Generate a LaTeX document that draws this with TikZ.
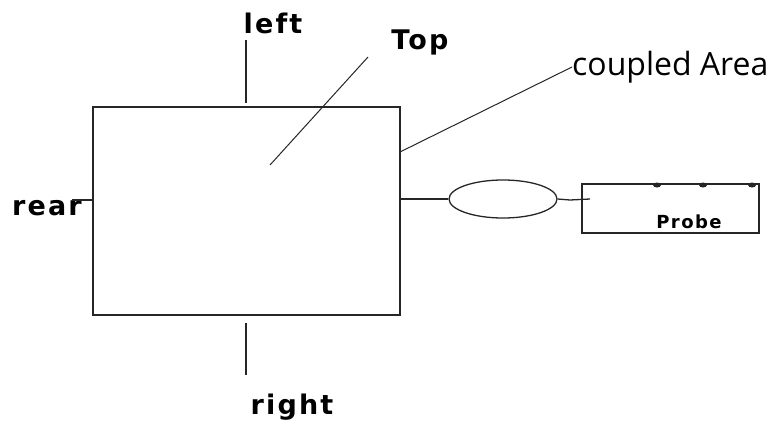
\documentclass[tikz,border=0pt]{standalone}
\usepackage{fontspec}
\usetikzlibrary{shapes.geometric}
\setmainfont{DejaVu Sans}
\newfontfamily\labfont[LetterSpace=8]{DejaVu Sans Bold}
\newfontfamily\areafont{Open Sans}
\begin{document}
\begin{tikzpicture}[x=1pt,y=-1pt,
  lab/.style={font=\labfont\fontsize{27}{29}\selectfont, inner sep=0pt},
  ln/.style={line width=1.3pt, black!85}]
\useasboundingbox (0,0) rectangle (777,426);
\node[draw, ln, minimum width=307pt, minimum height=208pt, inner sep=0pt] (box) at (246.5,211) {};
\node[lab] (left) at (273,23) {left};
\node[lab] (top) at (420,42) {Top};
\node[lab] (rear) at (47,208) {rear};
\node[lab] (right) at (292,407) {right};
\node[font=\areafont\fontsize{32}{34}\selectfont, inner sep=0pt, anchor=west] (area) at (572,67) {coupled Area};
\node[draw, ln, ellipse, minimum width=108pt, minimum height=38pt, inner sep=0pt] (ell) at (503,199) {};
\node[draw, ln, minimum width=177pt, minimum height=49pt, inner sep=0pt] (probe) at (670.5,208.5) {};
\node[font=\labfont\fontsize{18}{20}\selectfont, inner sep=0pt] (ptext) at (689,222) {Probe};
\coordinate (l1) at (246,40);
\coordinate (l2) at (246,103);
\coordinate (r1) at (246,323);
\coordinate (r2) at (246,375);
\coordinate (t1) at (270,165);
\coordinate (t2) at (368,57);
\coordinate (c1) at (400,152);
\coordinate (re1) at (72,200);
\coordinate (e1) at (400,199);
\coordinate (p1) at (570,200);
\coordinate (p2) at (590,199);
\draw[ln] (l1) -- (l2);
\draw[ln] (r1) -- (r2);
\draw[ln, line width=1pt] (t1) -- (t2);
\draw[ln, line width=1pt] (c1) -- (area.west);
\draw[ln] (re1) -- (box.west |- re1);
\draw[ln] (e1) -- (ell.west);
\draw[ln] (ell.east) -- (p1) -- (p2);
\foreach \xx in {657,703,752}
  \fill[black!85] (\xx,185) ellipse (4pt and 2.5pt);
\end{tikzpicture}
\end{document}
